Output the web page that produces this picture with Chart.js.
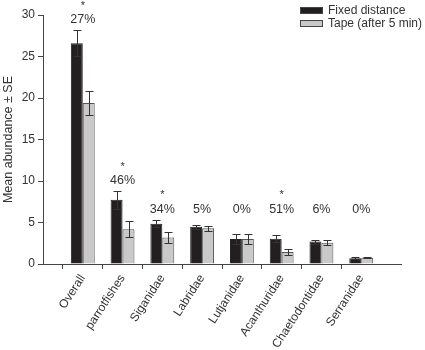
<!DOCTYPE html>
<html>
<head>
<meta charset="utf-8">
<script src="https://cdn.jsdelivr.net/npm/chart.js@4/dist/chart.umd.min.js"></script>
<style>
  html, body { margin: 0; padding: 0; background: #fff; }
  #wrap { width: 425px; height: 350px; }
</style>
</head>
<body>
<div id="wrap"><canvas id="grafico" width="425" height="350"></canvas></div>
<script>
const categories = ['Overall', 'parrotfishes', 'Siganidae', 'Labridae', 'Lutjanidae', 'Acanthuridae', 'Chaetodontidae', 'Serranidae'];
const fixedMean = [26.6, 7.75, 4.85, 4.5, 3.0, 3.05, 2.7, 0.7];
const fixedSE = [1.6, 1.1, 0.45, 0.25, 0.6, 0.45, 0.25, 0.1];
const tapeMean = [19.4, 4.2, 3.2, 4.3, 3.0, 1.45, 2.55, 0.75];
const tapeSE = [1.5, 0.95, 0.65, 0.3, 0.6, 0.35, 0.3, 0.08];
const pctLabels = ['27%', '46%', '34%', '5%', '0%', '51%', '6%', '0%'];
const significant = [true, true, true, false, false, true, false, false];
const yTicks = [0, 5, 10, 15, 20, 25, 30];

const fuente = '"Liberation Sans", Arial, sans-serif';
const textColor = '#333';

// empty slots at both ends so groups sit on the gridlines like the original
const etiquetas = [''].concat(categories, ['']);
const pad = (arr) => [null].concat(arr, [null]);

// Error bars, percentage labels and the legend
const extras = {
    id: 'extras',
    afterDatasetsDraw(chart) {
        const ctx = chart.ctx;
        const y = chart.scales.y;
        const series = [fixedSE, tapeSE];
        const means = [fixedMean, tapeMean];

        ctx.save();
        ctx.strokeStyle = '#333';
        ctx.lineWidth = 1;
        series.forEach((se, d) => {
            const meta = chart.getDatasetMeta(d);
            se.forEach((v, i) => {
                const bar = meta.data[i + 1];
                const x = Math.round(bar.x) + 0.5;
                const top = Math.round(y.getPixelForValue(means[d][i] + v)) + 0.5;
                const bot = Math.round(y.getPixelForValue(means[d][i] - v)) + 0.5;
                ctx.beginPath();
                ctx.moveTo(x, top); ctx.lineTo(x, bot);
                ctx.moveTo(x - 4, top); ctx.lineTo(x + 4, top);
                ctx.moveTo(x - 4, bot); ctx.lineTo(x + 4, bot);
                ctx.stroke();
            });
        });

        // percentage difference labels with significance stars
        const xs = chart.scales.x;
        ctx.fillStyle = textColor;
        ctx.textAlign = 'center';
        ctx.textBaseline = 'middle';
        categories.forEach((c, i) => {
            const cx = xs.getPixelForTick(i + 1);
            const errTop = Math.min(
                y.getPixelForValue(fixedMean[i] + fixedSE[i]),
                y.getPixelForValue(tapeMean[i] + tapeSE[i])
            );
            const ly = Math.min(errTop - 10, y.getPixelForValue(6.6));
            ctx.font = '12.5px ' + fuente;
            ctx.fillText(pctLabels[i], cx, ly);
            if (significant[i]) {
                ctx.font = '11px ' + fuente;
                ctx.fillText('*', cx, ly - 14);
            }
        });

        // legend
        const lx = 300, ly0 = 7;
        chart.data.datasets.forEach((ds, d) => {
            const yy = ly0 + d * 13;
            ctx.fillStyle = ds.backgroundColor;
            ctx.fillRect(lx, yy, 23, 7);
            ctx.strokeStyle = '#444';
            ctx.strokeRect(lx + 0.5, yy + 0.5, 22, 6);
            ctx.fillStyle = textColor;
            ctx.font = '12px ' + fuente;
            ctx.textAlign = 'left';
            ctx.fillText(ds.label, lx + 28, yy + 3.5);
        });
        ctx.restore();
    }
};

new Chart(document.getElementById('grafico'), {
    type: 'bar',
    data: {
        labels: etiquetas,
        datasets: [{
            label: 'Fixed distance',
            data: pad(fixedMean),
            backgroundColor: '#231f20',
            borderColor: '#231f20',
            borderWidth: 1,
            categoryPercentage: 0.6,
            barPercentage: 1.0
        }, {
            label: 'Tape (after 5 min)',
            data: pad(tapeMean),
            backgroundColor: '#c9c9c9',
            borderColor: '#555',
            borderWidth: 1,
            categoryPercentage: 0.6,
            barPercentage: 1.0
        }]
    },
    options: {
        responsive: false,
        animation: false,
        layout: { padding: { top: 15, right: 24, left: 0, bottom: 0 } },
        plugins: {
            legend: { display: false },
            tooltip: { enabled: false }
        },
        scales: {
            x: {
                offset: false,
                grid: {
                    display: true,
                    drawOnChartArea: false,
                    tickLength: 5,
                    tickColor: (c) => (c.index === 0 || c.index === etiquetas.length - 1) ? 'rgba(0,0,0,0)' : '#444'
                },
                border: { color: '#444', width: 1 },
                ticks: {
                    autoSkip: false,
                    maxRotation: 57,
                    minRotation: 57,
                    color: textColor,
                    font: { family: fuente, size: 12 },
                    padding: 3
                },
                afterFit: (scale) => { scale.height = 86; }
            },
            y: {
                min: 0,
                max: 30,
                afterBuildTicks: (scale) => { scale.ticks = yTicks.map((v) => ({ value: v })); },
                grid: {
                    display: true,
                    drawOnChartArea: false,
                    tickLength: 5,
                    tickColor: '#444'
                },
                border: { color: '#444', width: 1 },
                ticks: {
                    color: textColor,
                    font: { family: fuente, size: 12 },
                    padding: 3
                },
                title: {
                    display: true,
                    text: 'Mean abundance ± SE',
                    color: textColor,
                    font: { family: fuente, size: 12.5 },
                    padding: { top: 1, bottom: 0 }
                },
                afterFit: (scale) => { scale.width = 43; }
            }
        }
    },
    plugins: [extras]
});
</script>
</body>
</html>
